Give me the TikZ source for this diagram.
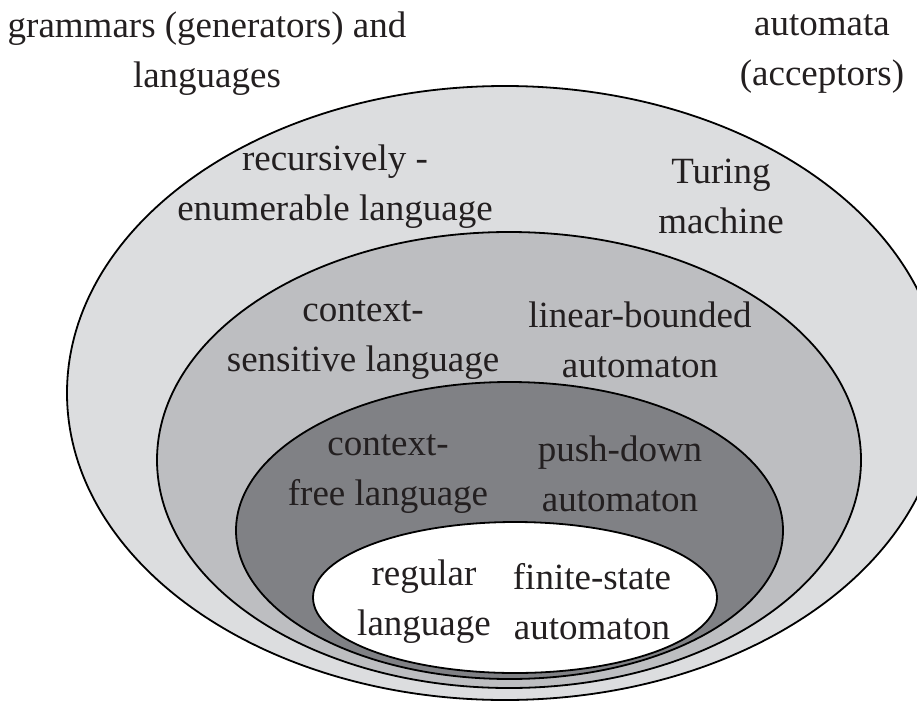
\documentclass[tikz,border=0pt]{standalone}
\usepackage{fontspec}
\setmainfont{Liberation Serif}

\definecolor{recfill}{RGB}{220,221,223}
\definecolor{csfill}{RGB}{189,190,193}
\definecolor{cffill}{RGB}{128,129,133}
\definecolor{inktext}{RGB}{35,31,32}

\begin{document}
\begin{tikzpicture}[
            x={(1pt,0pt)},
            y={(0pt,-1pt)},
            ring/.style={draw=black, line width=1.8pt},
            classtext/.style={align=center, inner sep=0pt, text=inktext,
                font=\fontsize{37}{50}\selectfont}
        ]

        \useasboundingbox (0,0) rectangle (917,709);

        % centres of the nested classes
        \coordinate (rec) at (505, 393);
        \coordinate (cs) at (509, 460);
        \coordinate (cf) at (509.5, 530.5);
        \coordinate (reg) at (515, 597.5);

        % classes, from the outside in
        \filldraw[ring, fill=recfill] (rec) ellipse [x radius=438, y radius=307];
        \filldraw[ring, fill=csfill] (cs) ellipse [x radius=352, y radius=228];
        \filldraw[ring, fill=cffill] (cf) ellipse [x radius=273.5, y radius=148.5];
        \filldraw[ring, fill=white] (reg) ellipse [x radius=202, y radius=75.5];

        % column heads
        \node[classtext] (gramhead) at (207, 54) {grammars (generators) and\\languages};
        \node[classtext] (autohead) at (822, 54) {automata\\(acceptors)};

        % languages
        \node[classtext] (reclang) at (335, 187) {recursively -\\enumerable language};
        \node[classtext] (cslang) at (363, 340) {context-\\sensitive language};
        \node[classtext] (cflang) at (388, 474) {context-\\free language};
        \node[classtext] (reglang) at (424, 602) {regular\\language};

        % automata
        \node[classtext] (turing) at (721, 196) {Turing\\machine};
        \node[classtext] (lba) at (640, 340) {linear-bounded\\automaton};
        \node[classtext] (pda) at (620, 474) {push-down\\automaton};
        \node[classtext] (fsa) at (592, 602) {finite-state\\automaton};

        \end{tikzpicture}
\end{document}
